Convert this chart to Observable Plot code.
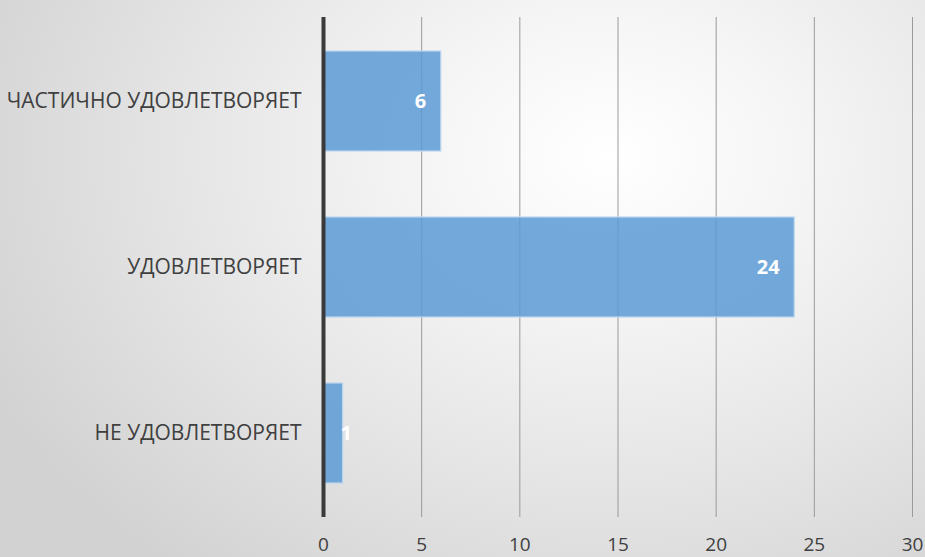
<!DOCTYPE html>
<html>
<head>
<meta charset="utf-8">
<script src="https://cdn.jsdelivr.net/npm/d3@7"></script>
<script src="https://cdn.jsdelivr.net/npm/@observablehq/plot@0.6"></script>
<style>
  html, body { margin: 0; padding: 0; }
  body {
    width: 925px; height: 557px; overflow: hidden;
    background: radial-gradient(ellipse 75% 95% at 66% 28%, #ffffff 0%, #f6f6f6 25%, #e6e6e6 60%, #d2d2d2 100%);
  }
  #chart svg { display: block; background: transparent; }
</style>
</head>
<body>
<div id="chart"></div>
<script>
const categories = ["ЧАСТИЧНО УДОВЛЕТВОРЯЕТ", "УДОВЛЕТВОРЯЕТ", "НЕ УДОВЛЕТВОРЯЕТ"];
const values = [6, 24, 1];
const xTicks = [0, 5, 10, 15, 20, 25, 30];

const data = categories.map((c, i) => ({category: c, value: values[i]}));
const font = "'Open Sans', sans-serif";

const chart = Plot.plot({
  width: 925,
  height: 557,
  marginLeft: 323,
  marginRight: 13,
  marginTop: 17,
  marginBottom: 40,
  style: {background: "transparent", fontFamily: font, overflow: "visible"},
  x: {domain: [0, 30], ticks: xTicks, label: null},
  y: {domain: categories, paddingInner: 0.4, paddingOuter: 0.2, label: null},
  marks: [
    Plot.gridX(xTicks, {stroke: "#9a9a9a", strokeOpacity: 1, strokeWidth: 1}),
    Plot.barX(data, {
      x: "value", y: "category",
      fill: "#5b9bd5", fillOpacity: 0.85,
      stroke: "#bcd6ee", strokeWidth: 1.2
    }),
    Plot.ruleX([0], {stroke: "#3a3a3a", strokeWidth: 4}),
    Plot.text(data.filter(d => d.value >= 3), {
      x: "value", y: "category", text: d => String(d.value),
      textAnchor: "end", dx: -15, fill: "white", fontWeight: "bold",
      fontSize: 20, fontFamily: font
    }),
    Plot.text(data.filter(d => d.value < 3), {
      x: "value", y: "category", text: d => String(d.value),
      textAnchor: "middle", dx: 3, fill: "white", fontWeight: "bold",
      fontSize: 20, fontFamily: font
    }),
    Plot.axisX({
      ticks: xTicks, tickSize: 0, tickPadding: 20, fontSize: 19,
      fill: "#404040", label: null, tickFormat: d => String(d)
    }),
    Plot.axisY({
      tickSize: 0, tickPadding: 22, fontSize: 21, fill: "#404040", label: null
    })
  ]
});
document.getElementById("chart").appendChild(chart);
</script>
</body>
</html>
